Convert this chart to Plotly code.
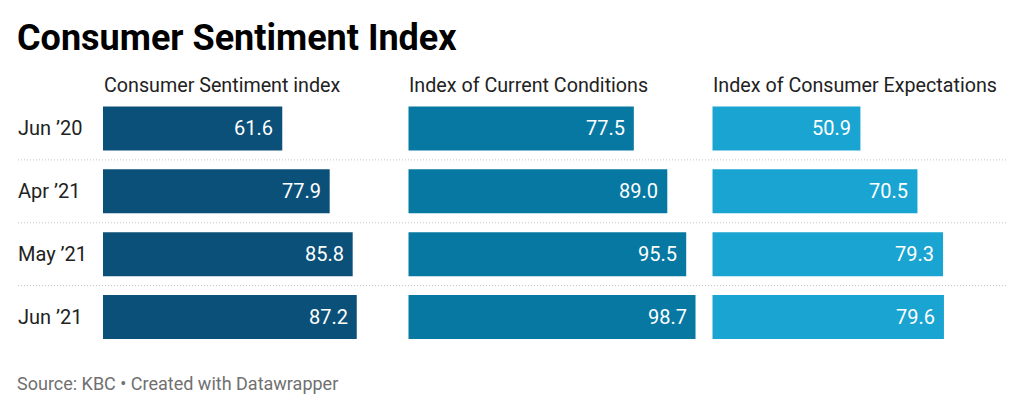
import plotly.graph_objects as go

W, H = 1024, 410

categories = ["Jun ’20", "Apr ’21", "May ’21", "Jun ’21"]
series_names = ["Consumer Sentiment index", "Index of Current Conditions", "Index of Consumer Expectations"]
sentiment = [61.6, 77.9, 85.8, 87.2]
current = [77.5, 89.0, 95.5, 98.7]
expectations = [50.9, 70.5, 79.3, 79.6]
colors = ["#0a5078", "#0678a2", "#19a4d1"]

series = [sentiment, current, expectations]

col_left_px = [103, 408.3, 712.3]
col_width_px = 291
x_max = 100
y_top_px, y_bot_px = 97, 348.5

FONT = "Roboto"

def px_x(p):
    return p / W

def px_y(p):
    return 1 - p / H

fig = go.Figure()
annotations = []
shapes = []
ypos = list(range(len(categories)))

for i, (name, vals, col) in enumerate(zip(series_names, series, colors)):
    xa = "x" if i == 0 else f"x{i+1}"
    ya = "y" if i == 0 else f"y{i+1}"
    fig.add_trace(go.Bar(
        x=vals, y=ypos, orientation="h", width=0.698,
        marker=dict(color=col, line=dict(width=0)),
        xaxis=xa, yaxis=ya, hoverinfo="skip", showlegend=False,
    ))
    dom = [px_x(col_left_px[i]), px_x(col_left_px[i] + col_width_px)]
    fig.layout[f"xaxis{'' if i == 0 else i+1}"] = dict(
        domain=dom, range=[0, x_max], visible=False, fixedrange=True,
    )
    fig.layout[f"yaxis{'' if i == 0 else i+1}"] = dict(
        domain=[px_y(y_bot_px), px_y(y_top_px)], range=[len(categories) - 0.5, -0.5],
        visible=False, anchor=xa, fixedrange=True,
    )
    # column header
    annotations.append(dict(
        text=name, xref="paper", yref="paper", x=px_x(col_left_px[i] - 1), y=px_y(86),
        xanchor="left", yanchor="middle", showarrow=False,
        font=dict(family=FONT, size=19.7, color="#222222"),
    ))
    # value labels
    for j, v in enumerate(vals):
        annotations.append(dict(
            text=f"{v:.1f}", xref=xa, yref=ya, x=v, y=j, xshift=-7,
            xanchor="right", yanchor="middle", showarrow=False,
            font=dict(family=FONT, size=20, color="#ffffff"),
        ))

# row labels
for j, c in enumerate(categories):
    annotations.append(dict(
        text=c, xref="paper", yref="y", x=px_x(16), y=j,
        xanchor="left", yanchor="middle", showarrow=False,
        font=dict(family=FONT, size=20, color="#222222"),
    ))

# separators
for j in range(1, len(categories)):
    shapes.append(dict(
        type="line", xref="paper", yref="y", x0=px_x(18), x1=px_x(1007),
        y0=j - 0.5, y1=j - 0.5, line=dict(color="#c4c4c4", width=1, dash="1px,2px"),
    ))

# title and footer
annotations.append(dict(
    text="<b>Consumer Sentiment Index</b>", xref="paper", yref="paper",
    x=px_x(15), y=px_y(38), xanchor="left", yanchor="middle", showarrow=False,
    font=dict(family=FONT, size=36, color="#000000"),
))
annotations.append(dict(
    text="Source: KBC • Created with Datawrapper", xref="paper", yref="paper",
    x=px_x(15), y=px_y(383), xanchor="left", yanchor="middle", showarrow=False,
    font=dict(family=FONT, size=18, color="#707070"),
))

fig.update_layout(
    width=W, height=H, margin=dict(l=0, r=0, t=0, b=0),
    paper_bgcolor="#ffffff", plot_bgcolor="#ffffff",
    annotations=annotations, shapes=shapes, barmode="overlay",
)

fig.write_html(
    "out.html",
    config={"displayModeBar": False},
    post_script="document.body.style.margin='0';document.body.style.overflow='hidden';",
)
